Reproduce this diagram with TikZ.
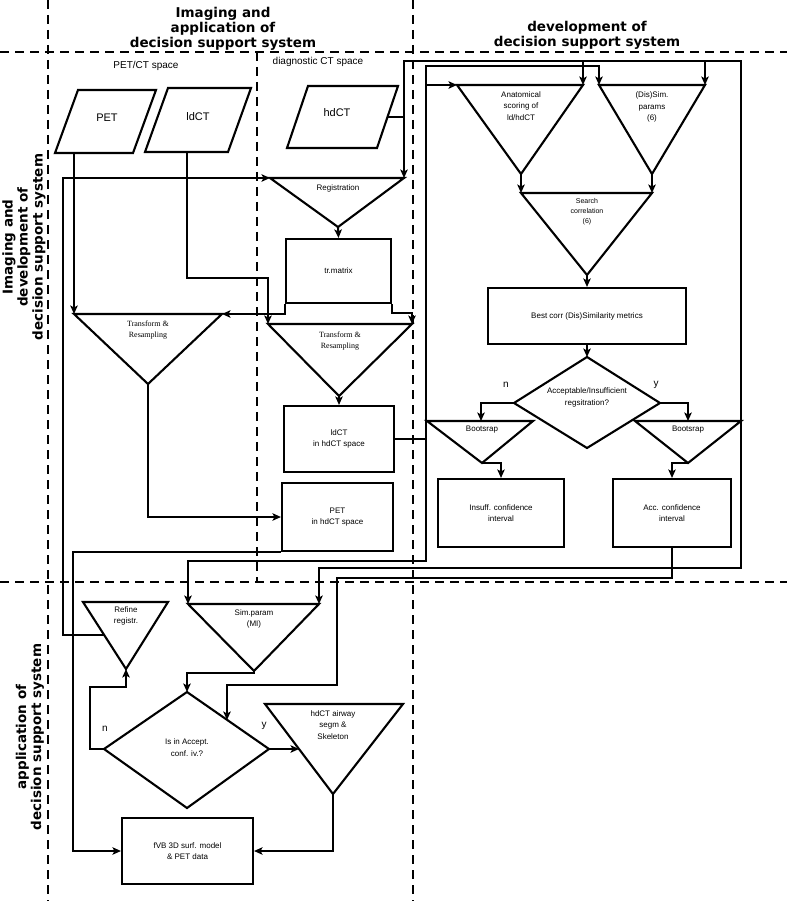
\documentclass[tikz,border=0pt]{standalone}
\usepackage{fontspec}
\setmainfont{Liberation Sans}
\newfontfamily\serifT{Liberation Serif}
\newfontfamily\titleF{DejaVu Sans}
\usetikzlibrary{arrows.meta}
\newcommand\fsA{\fontsize{8}{11.5}\selectfont}
\newcommand\fsS{\fontsize{7}{10}\selectfont}
\newcommand\fsB{\fontsize{11}{13}\selectfont}
\newcommand\fsC{\fontsize{10}{12}\selectfont}
\newcommand\fsT{\titleF\bfseries\fontsize{13.5}{15}\selectfont}
\newcommand\mytri[4]{\coordinate (#1a) at (#2); \coordinate (#1b) at (#3); \coordinate (#1c) at (#4); \draw[ln] (#1a) -- (#1b) -- (#1c) -- cycle;}
\newcommand\mypar[5]{\coordinate (#1a) at (#2); \coordinate (#1b) at (#3); \coordinate (#1c) at (#4); \coordinate (#1d) at (#5); \draw[ln] (#1a) -- (#1b) -- (#1c) -- (#1d) -- cycle;}
\tikzset{
  ln/.style={line width=2.1pt, line join=miter},
  arr/.style={ln, -{Stealth[length=8.5pt,width=7.5pt,inset=2pt]}},
  dsh/.style={line width=2pt, dash pattern=on 9pt off 6pt},
  box/.style={draw, ln, inner sep=0pt, align=center, font=\fsA},
  txt/.style={inner sep=0pt, align=center, font=\fsA},
  ttl/.style={inner sep=0pt, align=center, font=\fsT},
}
\begin{document}
\begin{tikzpicture}[x=1pt,y=-1pt]
\useasboundingbox (0,0) rectangle (787,901);
% region separators
\draw[dsh] (48,0) -- (48,901);
\draw[dsh] (413,0) -- (413,901);
\draw[dsh] (257,52) -- (257,582);
\draw[dsh] (0,52) -- (787,52);
\draw[dsh] (0,582) -- (787,582);
% titles
\node[ttl] (t1) at (223,29) {Imaging and\\application of\\decision support system};
\node[ttl] (t2) at (587,35) {development of\\decision support system};
\node[ttl, rotate=90] (t3) at (24,247) {Imaging and\\development of\\decision support system};
\node[ttl, rotate=90] (t4) at (30,737) {application of\\decision support system};
\node[txt, font=\fsC] (sp1) at (146,66) {PET/CT space};
\node[txt, font=\fsC] (sp2) at (318,62) {diagnostic CT space};
% inputs
\mypar{pe}{78,90}{156,90}{133,153}{55,153}
\node[txt, font=\fsB] (petL) at (107,118) {PET};
\mypar{ld}{168,88}{251,88}{228,152}{145,152}
\node[txt, font=\fsB] (ldL) at (198,117) {ldCT};
\mypar{hd}{308,86}{398,86}{377,148}{287,148}
\node[txt, font=\fsB] (hdL) at (337,113) {hdCT};
% triangles
\mytri{reg}{270,178}{404,178}{338,227}
\node[txt] (regL) at (338,188) {Registration};
\mytri{trL}{74,314}{222,314}{148,384}
\node[txt, font=\serifT\fsA] (trLL) at (148,330) {Transform \&\\Resampling};
\mytri{trR}{268,324}{412,324}{339,396}
\node[txt, font=\serifT\fsA] (trRL) at (340,341) {Transform \&\\Resampling};
\mytri{an}{457,85}{583,85}{521,174}
\node[txt] (anL) at (521,106) {Anatomical\\scoring of\\ld/hdCT};
\mytri{ds}{599,85}{705,85}{652,174}
\node[txt] (dsL) at (652,107) {(Dis)Sim.\\params\\(6)};
\mytri{sc}{521,193}{652,193}{587,275}
\node[txt, font=\fsS] (scL) at (587,212) {Search\\correlation\\(6)};
\mytri{bl}{427,421}{533,421}{482,463}
\node[txt] (blL) at (482,430) {Bootsrap};
\mytri{br}{635,421}{741,421}{688,463}
\node[txt] (brL) at (688,430) {Bootsrap};
\mytri{rf}{83,602}{168,602}{126,669}
\node[txt] (rfL) at (126,616) {Refine\\registr.};
\mytri{sm}{188,604}{319,604}{254,671}
\node[txt] (smL) at (254,619) {Sim.param\\(MI)};
\mytri{aw}{265,704}{403,704}{333,794}
\node[txt] (awL) at (333,725) {hdCT airway\\segm \&\\Skeleton};
% diamonds
\mypar{dA}{587,357}{660,403}{587,448}{514,403}
\node[txt] (dAL) at (587,397.5) {Acceptable/Insufficient\\regsitration?};
\mypar{dB}{187,692}{269,749}{187,808}{104,749}
\node[txt] (dBL) at (187,747.5) {Is in Accept.\\conf. iv.?};
% boxes
\node[box, minimum width=105pt, minimum height=64pt] (trm) at (338.5,271) {tr.matrix};
\node[box, minimum width=110pt, minimum height=66pt] (ldh) at (339,439) {ldCT\\in hdCT space};
\node[box, minimum width=111pt, minimum height=68pt] (peth) at (337.5,517) {PET\\in hdCT space};
\node[box, minimum width=198pt, minimum height=56pt] (best) at (587,316) {Best corr (Dis)Similarity metrics};
\node[box, minimum width=126pt, minimum height=68pt] (insf) at (501,513) {Insuff. confidence\\interval};
\node[box, minimum width=118pt, minimum height=68pt] (accb) at (672,513) {Acc. confidence\\interval};
\node[box, minimum width=131pt, minimum height=66pt] (fvb) at (187.5,851) {fVB 3D surf. model\\\& PET data};
% labels
\node[txt, font=\fsC] (n1) at (506,385) {n};
\node[txt, font=\fsC] (y1) at (656,385) {y};
\node[txt, font=\fsC] (n2) at (105,729) {n};
\node[txt, font=\fsC] (y2) at (264,726) {y};
% helper coordinates
\coordinate (peo) at (74,153);
\coordinate (ldo) at (187,152);
\coordinate (hdo) at (387.5,117);
\coordinate (rfo) at (104,635);
\coordinate (dBin) at (227,720);
\coordinate (awin) at (299,749);
\coordinate (blin) at (481,421);
\coordinate (brin) at (688,421);
% connectors
\draw[arr] (peo) -- (trLa);
\draw[arr] (ldo) |- (268,278) -- (trRa);
\draw[arr] (hdo) -| (regb);
\draw[arr] (404,117) |- (741,61) -- (741,568) -| (smb);
\draw[arr] (583,61) -- (anb);
\draw[arr] (705,61) -- (dsb);
\draw[arr] (regc) -- (trm.north);
\draw[arr] (trm.south west) |- (trLb);
\draw[arr] (trm.south east) |- (400,313) -| (trRb);
\draw[arr] (trRc) -- (ldh.north);
\draw[arr] (trLc) |- (peth.west);
\draw[ln] (ldh.east) -- (426,439);
\draw[arr] (426,439) -- (426,66) -| (dsa);
\draw[arr] (426,85) -- (ana);
\draw[arr] (426,439) -- (426,561) -| (sma);
\draw[arr] (rfo) -| (63,178) -- (rega);
\draw[arr] (peth.south west) -| (73,851) -- (fvb.west);
\draw[arr] (accb.south) |- (337,578) -- (337,685) -| (dBin);
\draw[arr] (smc) -- (254,673) -| (dBa);
\draw[arr] (dBd) -- (90,749) -- (90,687) -| (rfc);
\draw[arr] (dBb) -- (awin);
\draw[arr] (awc) |- (fvb.east);
\draw[arr] (anc) -- (sca);
\draw[arr] (dsc) -- (scb);
\draw[arr] (scc) -- (best.north);
\draw[arr] (best.south) -- (dAa);
\draw[arr] (dAd) -| (blin);
\draw[arr] (dAb) -| (brin);
\draw[arr] (blc) -| (insf.north);
\draw[arr] (brc) -| (accb.north);
\end{tikzpicture}
\end{document}
